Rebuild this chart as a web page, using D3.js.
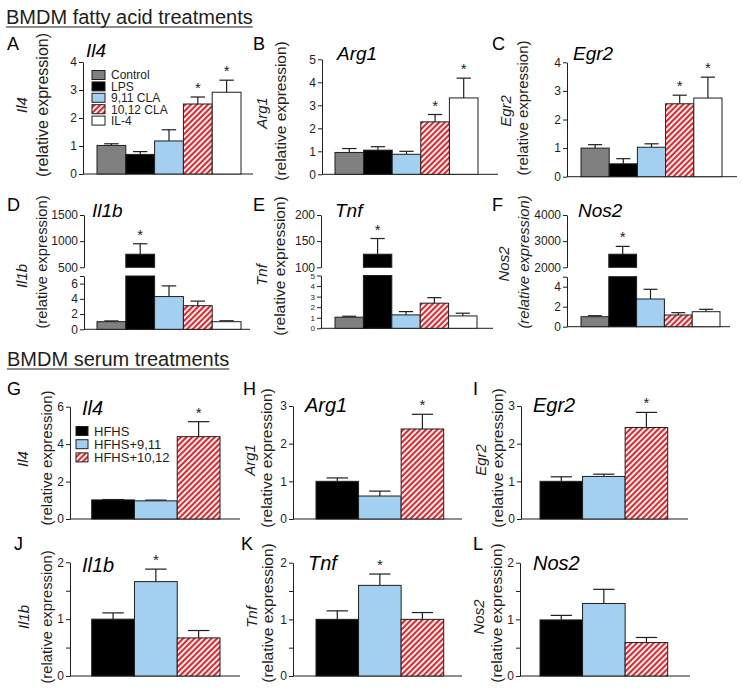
<!DOCTYPE html>
<html><head><meta charset="utf-8">
<script src="https://cdn.jsdelivr.net/npm/d3@7"></script>
<style>
body{margin:0;background:#fff}
svg{display:block;font-family:"Liberation Sans",Arial,sans-serif}
</style>
</head><body>
<svg id="chart" width="742" height="689"></svg>
<script>
// ---------- data ----------
const fattyGroups = ["Control", "LPS", "9,11 CLA", "10,12 CLA", "IL-4"];
const serumGroups = ["HFHS", "HFHS+9,11", "HFHS+10,12"];

// Fatty acid treatments
const faIl4Mean  = [1.02, 0.70, 1.18, 2.50, 2.92];
const faIl4Err   = [0.06, 0.10, 0.40, 0.25, 0.43];
const faIl4Sig   = [0, 0, 0, 1, 1];
const faArg1Mean = [0.95, 1.05, 0.87, 2.28, 3.32];
const faArg1Err  = [0.17, 0.15, 0.13, 0.32, 0.86];
const faArg1Sig  = [0, 0, 0, 1, 1];
const faEgr2Mean = [1.00, 0.45, 1.03, 2.55, 2.75];
const faEgr2Err  = [0.12, 0.18, 0.12, 0.30, 0.73];
const faEgr2Sig  = [0, 0, 0, 1, 1];
const faIl1bMean = [1.0, 750, 4.3, 3.1, 1.0];
const faIl1bErr  = [0.1, 200, 1.4, 0.6, 0.12];
const faIl1bSig  = [0, 1, 0, 0, 0];
const faTnfMean  = [1.05, 125, 1.27, 2.38, 1.17];
const faTnfErr   = [0.09, 30, 0.31, 0.52, 0.26];
const faTnfSig   = [0, 1, 0, 0, 0];
const faNos2Mean = [1.0, 2500, 2.77, 1.17, 1.50];
const faNos2Err  = [0.1, 300, 0.97, 0.23, 0.24];
const faNos2Sig  = [0, 1, 0, 0, 0];

// Serum treatments
const seIl4Mean  = [1.02, 0.97, 4.40];
const seIl4Err   = [0.02, 0.04, 0.80];
const seIl4Sig   = [0, 0, 1];
const seArg1Mean = [1.00, 0.61, 2.39];
const seArg1Err  = [0.09, 0.13, 0.39];
const seArg1Sig  = [0, 0, 1];
const seEgr2Mean = [1.00, 1.13, 2.43];
const seEgr2Err  = [0.12, 0.06, 0.40];
const seEgr2Sig  = [0, 0, 1];
const seIl1bMean = [1.00, 1.66, 0.67];
const seIl1bErr  = [0.11, 0.22, 0.13];
const seIl1bSig  = [0, 1, 0];
const seTnfMean  = [1.00, 1.60, 1.00];
const seTnfErr   = [0.15, 0.20, 0.12];
const seTnfSig   = [0, 1, 0];
const seNos2Mean = [0.99, 1.28, 0.59];
const seNos2Err  = [0.08, 0.25, 0.09];
const seNos2Sig  = [0, 0, 0];

// tick values
const ticks0to4 = [0, 1, 2, 3, 4];
const ticks0to5 = [0, 1, 2, 3, 4, 5];
const ticksIl1bLow = [0, 2, 4, 6, 7];
const labelsIl1bLow = [0, 2, 4, 6];
const ticksIl1bHigh = [500, 1000, 1500];
const ticksTnfLow = [0, 1, 2, 3, 4, 5];
const ticksTnfHigh = [100, 150, 200];
const ticksNos2Low = [0, 2, 4, 5];
const labelsNos2Low = [0, 2, 4];
const ticksNos2High = [2000, 3000, 4000];
const ticks0to6 = [0, 2, 4, 6];
const ticks0to3 = [0, 1, 2, 3];
const ticks0to2 = [0, 0.5, 1, 1.5, 2];
const labels0to2 = [0, 1, 2];

// ---------- styles ----------
const fattyColors = ["#808080", "#000000", "#a3cff1", "url(#hatch)", "#ffffff"];
const serumColors = ["#000000", "#a3cff1", "url(#hatch)"];
const ink = "#1e1e1e";

const svg = d3.select("#chart");
const defs = svg.append("defs");
const pat = defs.append("pattern").attr("id", "hatch")
  .attr("patternUnits", "userSpaceOnUse").attr("width", 4).attr("height", 4)
  .attr("patternTransform", "rotate(45)");
pat.append("rect").attr("width", 4).attr("height", 4).attr("fill", "#fdf2f2");
pat.append("rect").attr("width", 2).attr("height", 4).attr("fill", "#e3262b");

// headers
function header(text, x, y) {
  const t = svg.append("text").attr("x", x).attr("y", y).attr("font-size", 20)
    .attr("fill", ink).text(text);
  const w = t.node().getComputedTextLength();
  svg.append("line").attr("x1", x).attr("x2", x + w).attr("y1", y + 3).attr("y2", y + 3)
    .attr("stroke", ink).attr("stroke-width", 1.2);
}
header("BMDM fatty acid treatments", 6, 24);
header("BMDM serum treatments", 7, 366);

// ---------- panels ----------
const panels = [
  {letter:"A", lx:7, ly:50, gene:"Il4", tx:86, ty:57, groups:fattyGroups, colors:fattyColors,
   mean:faIl4Mean, err:faIl4Err, sig:faIl4Sig, axisX:83, xEnd:253, bars:[97,241],
   low:{domain:[0,4], range:[174,62], ticks:ticks0to4, labels:ticks0to4},
   gx:22, rx:42, gcy:105, rcy:105, rsize:16,
   legend:{items:fattyGroups, x:92, y0:75, dy:11.4, w:13, h:9, size:12}},
  {letter:"B", lx:253, ly:50, gene:"Arg1", tx:337, ty:60, groups:fattyGroups, colors:fattyColors,
   mean:faArg1Mean, err:faArg1Err, sig:faArg1Sig, axisX:322, xEnd:498, bars:[335,478],
   low:{domain:[0,5], range:[174.3,59.3], ticks:ticks0to5, labels:ticks0to5},
   gx:262, rx:281, gcy:113, rcy:111, rsize:15.5},
  {letter:"C", lx:492, ly:50, gene:"Egr2", tx:573, ty:60, groups:fattyGroups, colors:fattyColors,
   mean:faEgr2Mean, err:faEgr2Err, sig:faEgr2Sig, axisX:567, xEnd:737, bars:[581,722],
   low:{domain:[0,4], range:[176.7,62.3], ticks:ticks0to4, labels:ticks0to4},
   gx:506, rx:523, gcy:111, rcy:108, rsize:15},
  {letter:"D", lx:7, ly:211, gene:"Il1b", tx:92, ty:217, groups:fattyGroups, colors:fattyColors,
   mean:faIl1bMean, err:faIl1bErr, sig:faIl1bSig, axisX:84, xEnd:250, bars:[97,241],
   low:{domain:[0,7], range:[329.3,276], ticks:ticksIl1bLow, labels:labelsIl1bLow},
   high:{domain:[500,1500], range:[267.3,215], ticks:ticksIl1bHigh, labels:ticksIl1bHigh},
   gx:22, rx:42, gcy:276, rcy:262, rsize:14.8},
  {letter:"E", lx:253, ly:211, gene:"Tnf", tx:335, ty:217, groups:fattyGroups, colors:fattyColors,
   mean:faTnfMean, err:faTnfErr, sig:faTnfSig, axisX:321, xEnd:493, bars:[335,477],
   low:{domain:[0,5], range:[328.3,275.5], ticks:ticksTnfLow, labels:ticksTnfLow, size:8},
   high:{domain:[100,200], range:[267.3,215], ticks:ticksTnfHigh, labels:ticksTnfHigh},
   gx:262, rx:280, gcy:275, rcy:266, rsize:15.5},
  {letter:"F", lx:492, ly:211, gene:"Nos2", tx:578, ty:217, groups:fattyGroups, colors:fattyColors,
   mean:faNos2Mean, err:faNos2Err, sig:faNos2Sig, axisX:567, xEnd:730, bars:[581,720],
   low:{domain:[0,5], range:[326.7,276.7], ticks:ticksNos2Low, labels:labelsNos2Low},
   high:{domain:[2000,4000], range:[267.3,215], ticks:ticksNos2High, labels:ticksNos2High},
   gx:504, rx:524, gcy:264, rcy:262, rsize:14.8, relItalic:true},
  {letter:"G", lx:7, ly:395, gene:"Il4", tx:82, ty:415, groups:serumGroups, colors:serumColors,
   mean:seIl4Mean, err:seIl4Err, sig:seIl4Sig, axisX:70, xEnd:240, bars:[91.7,220],
   low:{domain:[0,6], range:[519,406.7], ticks:ticks0to6, labels:ticks0to6},
   gx:23, rx:47, gcy:459, rcy:458, rsize:15,
   legend:{items:serumGroups, x:76, y0:431, dy:13.2, w:12, h:9, size:13}},
  {letter:"H", lx:243, ly:395, gene:"Arg1", tx:305, ty:412, groups:serumGroups, colors:serumColors,
   mean:seArg1Mean, err:seArg1Err, sig:seArg1Sig, axisX:293, xEnd:462, bars:[316,443.7],
   low:{domain:[0,3], range:[519,406], ticks:ticks0to3, labels:ticks0to3},
   gx:250, rx:267, gcy:460, rcy:458, rsize:15.5},
  {letter:"I", lx:473, ly:395, gene:"Egr2", tx:533, ty:412, groups:serumGroups, colors:serumColors,
   mean:seEgr2Mean, err:seEgr2Err, sig:seEgr2Sig, axisX:521, xEnd:688, bars:[540,667.7],
   low:{domain:[0,3], range:[519,406], ticks:ticks0to3, labels:ticks0to3},
   gx:481, rx:498, gcy:460, rcy:458, rsize:15.5},
  {letter:"J", lx:14, ly:550, gene:"Il1b", tx:82, ty:572, groups:serumGroups, colors:serumColors,
   mean:seIl1bMean, err:seIl1bErr, sig:seIl1bSig, axisX:70, xEnd:240, bars:[91.7,220],
   low:{domain:[0,2], range:[676,562.3], ticks:ticks0to2, labels:labels0to2},
   gx:24, rx:47, gcy:617, rcy:617, rsize:14.8},
  {letter:"K", lx:241, ly:550, gene:"Tnf", tx:308, ty:570, groups:serumGroups, colors:serumColors,
   mean:seTnfMean, err:seTnfErr, sig:seTnfSig, axisX:293, xEnd:462, bars:[316,443.7],
   low:{domain:[0,2], range:[676,562.7], ticks:ticks0to2, labels:labels0to2},
   gx:252, rx:268, gcy:617, rcy:613, rsize:15.5},
  {letter:"L", lx:473, ly:550, gene:"Nos2", tx:533, ty:570, groups:serumGroups, colors:serumColors,
   mean:seNos2Mean, err:seNos2Err, sig:seNos2Sig, axisX:520, xEnd:690, bars:[540,667.7],
   low:{domain:[0,2], range:[676,562.7], ticks:ticks0to2, labels:labels0to2},
   gx:479, rx:497, gcy:617, rcy:613, rsize:15.5}
];

function drawAxis(g, p, seg) {
  const y = d3.scaleLinear().domain(seg.domain).range(seg.range);
  const ax = g.append("g").attr("transform", `translate(${p.axisX},0)`)
    .call(d3.axisLeft(y).tickValues(seg.ticks).tickSize(4).tickSizeOuter(0).tickPadding(2)
      .tickFormat(d => seg.labels.includes(d) ? String(d) : ""));
  ax.attr("font-family", null).attr("font-size", null);
  ax.selectAll("path,line").attr("stroke", ink).attr("stroke-width", 1);
  ax.selectAll("text").attr("fill", ink).attr("font-size", seg.size || 12);
  return y;
}

panels.forEach(p => {
  const g = svg.append("g");
  const x = d3.scaleBand().domain(p.groups).range(p.bars);
  const bw = x.bandwidth();
  const yLow = drawAxis(g, p, p.low);
  const yHigh = p.high ? drawAxis(g, p, p.high) : null;
  const lowMax = p.low.domain[1];

  // x axis line
  g.append("line").attr("x1", p.axisX).attr("x2", p.xEnd)
    .attr("y1", yLow(0)).attr("y2", yLow(0)).attr("stroke", ink).attr("stroke-width", 1);

  p.groups.forEach((grp, i) => {
    const v = p.mean[i], e = p.err[i];
    const bx = x(grp), cx = bx + bw / 2;
    const fill = p.colors[i];
    const topLow = yLow(Math.min(v, lowMax));
    const ev = v + e;
    const inHigh = yHigh && v > p.high.domain[0];
    const yTop = inHigh ? yHigh(v) : topLow;
    const yErr = inHigh ? yHigh(ev) : yLow(ev);
    g.append("line").attr("x1", cx).attr("x2", cx).attr("y1", yTop).attr("y2", yErr)
      .attr("stroke", ink).attr("stroke-width", 1.2);
    g.append("line").attr("x1", cx - bw / 4).attr("x2", cx + bw / 4).attr("y1", yErr).attr("y2", yErr)
      .attr("stroke", ink).attr("stroke-width", 1.2);
    g.append("rect").attr("x", bx).attr("y", topLow).attr("width", bw)
      .attr("height", yLow(0) - topLow).attr("fill", fill).attr("stroke", ink).attr("stroke-width", 1);
    if (inHigh) {
      const yb = yHigh(p.high.domain[0]);
      g.append("rect").attr("x", bx).attr("y", yHigh(v)).attr("width", bw)
        .attr("height", yb - yHigh(v)).attr("fill", fill).attr("stroke", ink).attr("stroke-width", 1);
    }
    if (p.sig[i]) {
      g.append("text").attr("x", cx).attr("y", yErr - 4).attr("text-anchor", "middle")
        .attr("font-size", 15).attr("fill", ink).text("*");
    }
  });

  g.append("text").attr("x", p.tx).attr("y", p.ty).attr("font-size", p.ty > 380 ? 20 : 19)
    .attr("font-style", "italic").attr("fill", "#000").text(p.gene);
  g.append("text").attr("x", p.lx).attr("y", p.ly).attr("font-size", 18).attr("fill", "#000").text(p.letter);
  g.append("text").attr("transform", `translate(${p.gx},${p.gcy}) rotate(-90)`)
    .attr("dy", "0.35em").attr("text-anchor", "middle").attr("font-size", 15)
    .attr("font-style", "italic").attr("fill", ink).text(p.gene);
  g.append("text").attr("transform", `translate(${p.rx},${p.rcy}) rotate(-90)`)
    .attr("dy", "0.35em").attr("text-anchor", "middle").attr("font-size", p.rsize)
    .attr("font-style", p.relItalic ? "italic" : "normal").attr("fill", ink).text("(relative expression)");

  if (p.legend) {
    const L = p.legend;
    L.items.forEach((it, i) => {
      const cy = L.y0 + i * L.dy;
      g.append("rect").attr("x", L.x).attr("y", cy - L.h / 2).attr("width", L.w).attr("height", L.h)
        .attr("fill", p.colors[i]).attr("stroke", ink).attr("stroke-width", 1);
      g.append("text").attr("x", L.x + L.w + 6).attr("y", cy).attr("dy", "0.36em")
        .attr("font-size", L.size).attr("fill", ink).text(it);
    });
  }
});
</script>
</body></html>
